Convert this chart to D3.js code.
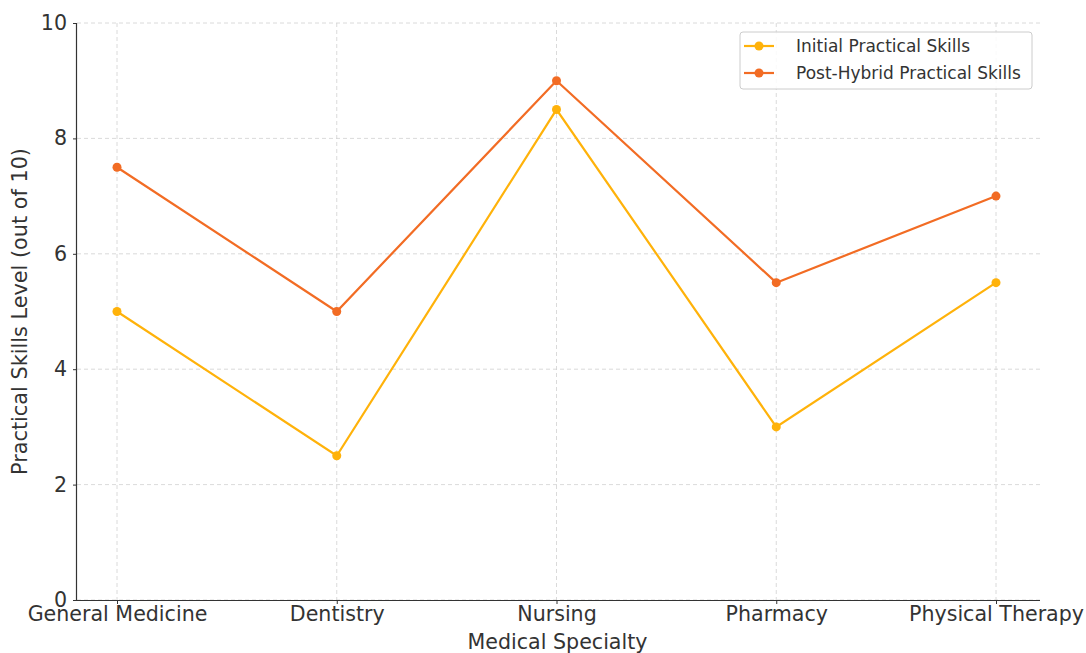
<!DOCTYPE html>
<html><head><meta charset="utf-8">
<script src="https://cdn.jsdelivr.net/npm/d3@7"></script>
<style>body{margin:0;background:#fff;} text{font-family:"DejaVu Sans",sans-serif;}</style>
</head><body><svg id="c" width="1086" height="653"></svg>
<script>
const categories = ["General Medicine","Dentistry","Nursing","Pharmacy","Physical Therapy"];
const initialSkills = [5, 2.5, 8.5, 3, 5.5];
const postHybridSkills = [7.5, 5, 9, 5.5, 7];
const yTicks = [0,2,4,6,8,10];
const seriesNames = ["Initial Practical Skills","Post-Hybrid Practical Skills"];
const colors = ["#FFB20A","#F26C24"];

const svg = d3.select("#c");
const L=77, R=1040, T=23, B=600;
const x = d3.scalePoint().domain(categories).range([117,996]);
const y = d3.scaleLinear().domain([0,10]).range([B,T]);

// grid
const g = svg.append("g");
g.selectAll(".gy").data(yTicks).join("line")
 .attr("x1",L).attr("x2",R).attr("y1",d=>y(d)).attr("y2",d=>y(d))
 .attr("stroke","#d0d0d0").attr("stroke-dasharray","4,3").attr("stroke-width",0.8);
g.selectAll(".gx").data(categories).join("line")
 .attr("x1",d=>x(d)).attr("x2",d=>x(d)).attr("y1",T).attr("y2",B)
 .attr("stroke","#d0d0d0").attr("stroke-dasharray","4,3").attr("stroke-width",0.8);

// axes
const ya = svg.append("g").attr("transform",`translate(${L},0)`)
 .call(d3.axisLeft(y).tickValues(yTicks).tickFormat(d3.format("d")).tickSize(4).tickPadding(6));
const xa = svg.append("g").attr("transform",`translate(0,${B})`)
 .call(d3.axisBottom(x).tickSize(4).tickPadding(2));
xa.select(".domain").attr("d",`M${L},0.5H${R}`);
ya.select(".domain").attr("d",`M-0.5,${T}V${B}`);
[xa,ya].forEach(a=>{
  a.selectAll(".domain").attr("stroke","#333").attr("stroke-width",1.2);
  a.selectAll(".tick line").attr("stroke","#333");
  a.selectAll("text").attr("fill","#333").style("font-size","20.6px").style("font-family","DejaVu Sans");
});

svg.append("text").attr("x",(L+R)/2-1).attr("y",649).attr("text-anchor","middle")
 .attr("fill","#333").style("font-size","20.6px").text("Medical Specialty");
svg.append("text").attr("transform",`translate(27,${(T+B)/2}) rotate(-90)`).attr("text-anchor","middle")
 .attr("fill","#333").style("font-size","20.8px").text("Practical Skills Level (out of 10)");

// lines
const data = [initialSkills, postHybridSkills];
const line = d3.line().x((d,i)=>x(categories[i])).y(d=>y(d));
data.forEach((s,k)=>{
  svg.append("path").datum(s).attr("d",line).attr("fill","none")
   .attr("stroke",colors[k]).attr("stroke-width",2.2);
  svg.selectAll(".p"+k).data(s).join("circle")
   .attr("cx",(d,i)=>x(categories[i])).attr("cy",d=>y(d)).attr("r",4.5).attr("fill",colors[k]);
});

// legend
const lg = svg.append("g").attr("transform","translate(740,32)");
lg.append("rect").attr("width",292).attr("height",57).attr("rx",3)
 .attr("fill","#fff").attr("fill-opacity",0.85).attr("stroke","#ccc");
seriesNames.forEach((n,k)=>{
  const yy = 14+k*27;
  lg.append("line").attr("x1",4).attr("x2",34).attr("y1",yy).attr("y2",yy)
   .attr("stroke",colors[k]).attr("stroke-width",2.2);
  lg.append("circle").attr("cx",19).attr("cy",yy).attr("r",4.5).attr("fill",colors[k]);
  lg.append("text").attr("x",56).attr("y",yy+6).attr("fill","#333").style("font-size","17px").text(n);
});
</script></body></html>
